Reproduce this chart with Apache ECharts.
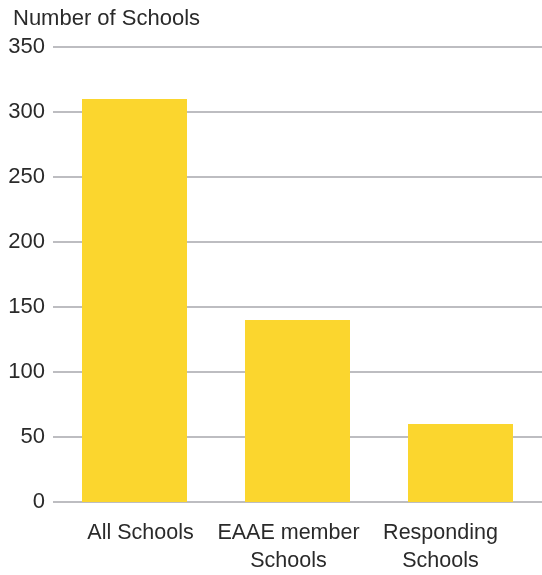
<!DOCTYPE html>
<html>
<head>
<meta charset="utf-8">
<script src="https://cdn.jsdelivr.net/npm/echarts@6/dist/echarts.min.js"></script>
<style>html,body{margin:0;padding:0;background:#fff}#c{width:542px;height:575px}</style>
</head>
<body>
<div id="c"></div>
<script>
const categories = ['All Schools', 'EAAE member\nSchools', 'Responding\nSchools'];
const values = [310, 140, 60];
const yTicks = { min: 0, max: 350, interval: 50 };
const axisTitle = 'Number of Schools';
const labelPads = [[0,0,0,12],[0,18,0,0],[0,40,0,0]];

const chart = echarts.init(document.getElementById('c'));
chart.setOption({
  animation: false,
  title: { text: axisTitle, left: 8, top: 3, textStyle: { fontFamily: 'Liberation Sans', fontSize: 22, fontWeight: 'normal', color: '#2a2a2a' } },
  grid: { left: 53, right: -3, top: 47, bottom: 70, containLabel: false },
  xAxis: {
    type: 'category',
    data: categories.map((c, i) => ({ value: c, textStyle: { padding: labelPads[i] } })),
    axisLine: { show: false }, axisTick: { show: false },
    axisLabel: { fontFamily: 'Liberation Sans', fontSize: 21.5, color: '#2a2a2a', lineHeight: 28, margin: 17, interval: 0 }
  },
  yAxis: {
    type: 'value', min: yTicks.min, max: yTicks.max, interval: yTicks.interval,
    axisLine: { show: false }, axisTick: { show: false },
    splitLine: { lineStyle: { color: '#bdbdc1', width: 2 } },
    axisLabel: { fontFamily: 'Liberation Sans', fontSize: 22, color: '#2a2a2a', margin: 8 }
  },
  series: [{ type: 'bar', data: values, barWidth: 105, itemStyle: { color: '#FBD62E' } }]
});
</script>
</body>
</html>
